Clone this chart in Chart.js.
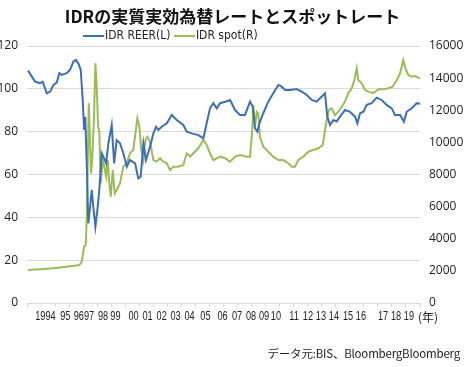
<!DOCTYPE html>
<html>
<head>
<meta charset="utf-8">
<script src="https://cdn.jsdelivr.net/npm/chart.js@4/dist/chart.umd.min.js"></script>
<style>
  body { margin: 0; background: #fff; }
  #wrap { position: relative; width: 465px; height: 367px; overflow: hidden; }
  #chart { position: absolute; left: 0; top: 0; }
  #title { position: absolute; left: 0; top: 3px; width: 465px; text-align: center;
    font: bold 17px "Noto Sans CJK JP", sans-serif; color: #111; }
  #legend { position: absolute; left: 83px; top: 28px; font: 12px "DejaVu Sans", sans-serif; font-stretch: condensed; color: #222; white-space: nowrap; }
  #legend span.mark { display: inline-block; width: 21px; height: 2px; vertical-align: middle; margin-right: 1px; }
  #unit { position: absolute; left: 418px; top: 308px; font: 12px "Noto Sans CJK JP", sans-serif; color: #222; }
  #note { position: absolute; right: 5px; top: 345px; font: 11.5px "Noto Sans CJK JP", sans-serif; color: #222; letter-spacing: -0.2px; }
</style>
</head>
<body>
<div id="wrap">
  <canvas id="chart" width="465" height="367"></canvas>
  <div id="title">IDRの実質実効為替レートとスポットレート</div>
  <div id="legend"><span class="mark" style="background:#3d6fb6"></span>IDR REER(L) <span class="mark" style="background:#9bbb59"></span>IDR spot(R)</div>
  <div id="unit">(年)</div>
  <div id="note">データ元:BIS、BloombergBloomberg</div>
</div>
<script>
  const blue = "#3d6fb6";
  const green = "#9bbb59";
  const gridGray = "#d9d9d9";

  // REER (left axis)
  const reerYears = [1994.0, 1994.46, 1994.79, 1994.97, 1995.24, 1995.46, 1995.68, 1995.9, 1996.07, 1996.23,
    1996.56, 1996.78, 1997.0, 1997.16, 1997.33, 1997.49, 1997.62, 1997.71, 1997.79, 1997.89,
    1997.99, 1998.11, 1998.22, 1998.32, 1998.46, 1998.59, 1998.72, 1998.88, 1998.99, 1999.17,
    1999.32, 1999.54, 1999.7, 1999.87, 2000.09, 2000.31, 2000.54, 2000.75, 2001.09, 2001.3,
    2001.46, 2001.64, 2001.81, 2002.08, 2002.3, 2002.48, 2002.63, 2002.85, 2003.19, 2003.52,
    2003.85, 2004.28, 2004.51, 2004.84, 2005.28, 2005.61, 2005.83, 2006.05, 2006.27, 2006.5,
    2006.72, 2007.05, 2007.38, 2007.71, 2008.04, 2008.37, 2008.7, 2008.88, 2009.03, 2009.19,
    2009.32, 2009.58, 2009.91, 2010.24, 2010.58, 2010.8, 2011.02, 2011.35, 2011.79, 2012.13,
    2012.46, 2012.79, 2013.12, 2013.45, 2013.67, 2013.82, 2014.0, 2014.22, 2014.44, 2014.66,
    2014.99, 2015.32, 2015.66, 2015.81, 2015.99, 2016.21, 2016.43, 2016.76, 2017.09, 2017.42,
    2017.75, 2018.09, 2018.3, 2018.64, 2018.9, 2019.08, 2019.41, 2019.74, 2019.96];
  const reerValues = [108.5, 103.4, 102.6, 103.3, 97.9, 98.7, 101.8, 102.9, 107.3, 106.5,
    107.3, 108.8, 112.7, 113.5, 111.9, 108.8, 94.8, 80.8, 87.0, 63.7,
    37.2, 45.0, 52.8, 45.0, 35.6, 43.4, 52.8, 69.9, 68.3, 65.2,
    74.6, 83.1, 65.2, 76.1, 74.6, 69.9, 63.6, 66.8, 65.2, 58.2,
    59.0, 74.6, 66.8, 73.0, 79.2, 82.3, 80.8, 82.3, 83.9, 87.8,
    85.4, 83.1, 80.0, 79.2, 78.4, 76.9, 83.9, 90.9, 93.3, 90.9,
    93.3, 94.0, 94.8, 90.1, 87.8, 87.8, 94.0, 91.7, 81.6, 80.0,
    83.9, 88.6, 94.0, 97.9, 101.8, 101.0, 99.5, 99.5, 99.9, 98.7,
    97.1, 94.8, 94.0, 96.4, 97.9, 87.0, 83.1, 85.4, 84.7, 87.0,
    90.1, 89.3, 87.0, 83.9, 88.6, 89.3, 92.5, 93.3, 95.9, 94.8,
    92.5, 90.9, 87.8, 87.8, 84.7, 89.3, 90.9, 93.3, 93.0];

  // IDR spot (right axis)
  const spotYears = [1994.0, 1994.79, 1995.68, 1996.56, 1997.4, 1997.56, 1997.71, 1997.82, 1997.89, 1997.95,
    1998.02, 1998.09, 1998.17, 1998.26, 1998.37, 1998.46, 1998.55, 1998.64, 1998.72, 1998.81,
    1998.95, 1999.05, 1999.17, 1999.28, 1999.38, 1999.48, 1999.61, 1999.74, 1999.87, 2000.09,
    2000.31, 2000.54, 2000.75, 2000.97, 2001.11, 2001.24, 2001.37, 2001.5, 2001.64, 2001.77,
    2001.9, 2002.08, 2002.3, 2002.52, 2002.74, 2002.96, 2003.19, 2003.4, 2003.62, 2003.95,
    2004.28, 2004.51, 2004.73, 2004.95, 2005.28, 2005.61, 2005.83, 2006.05, 2006.27, 2006.5,
    2006.72, 2007.05, 2007.38, 2007.71, 2008.04, 2008.48, 2008.7, 2008.85, 2008.92, 2009.03,
    2009.15, 2009.25, 2009.36, 2009.58, 2009.91, 2010.24, 2010.58, 2010.91, 2011.24, 2011.46,
    2011.68, 2011.9, 2012.23, 2012.56, 2012.89, 2013.23, 2013.52, 2013.67, 2013.78, 2013.93,
    2014.11, 2014.33, 2014.55, 2014.77, 2014.99, 2015.21, 2015.44, 2015.61, 2015.77, 2015.87,
    2016.1, 2016.32, 2016.54, 2016.87, 2017.2, 2017.53, 2017.86, 2018.15, 2018.42, 2018.64,
    2018.85, 2019.03, 2019.19, 2019.41, 2019.63, 2019.96];
  const spotValues = [2060, 2100, 2160, 2260, 2365, 2570, 3505, 3610, 5370, 8490,
    12430, 10560, 8070, 9110, 11600, 14920, 13470, 10980, 10670, 7450,
    8900, 8490, 7860, 8900, 7450, 6620, 8280, 6830, 7040, 7450,
    8490, 8700, 9320, 9530, 10560, 11500, 10980, 9530, 8900, 10150,
    10350, 10040, 8900, 8800, 9010, 8800, 8700, 8280, 8490, 8490,
    8590, 9320, 9110, 9320, 9630, 10150, 9840, 9320, 8900, 9010,
    9110, 9010, 8800, 9110, 9210, 9110, 9110, 10770, 12330, 10980,
    11910, 11810, 10350, 9730, 9420, 9110, 8900, 8900, 8700, 8490,
    8490, 8900, 9110, 9420, 9530, 9630, 9840, 10770, 11390, 12020,
    12120, 11700, 11910, 12220, 12540, 13060, 13370, 13880, 14610, 13880,
    13680, 13260, 13160, 13060, 13300, 13300, 13370, 13470, 13880, 14300,
    15130, 14510, 14200, 14090, 14130, 13990];

  // year labels and where they sit on the time axis
  const tickYears = [1995.15, 1996.47, 1997.36, 1998.04, 1998.97, 1999.79, 2000.99, 2001.91, 2002.85, 2003.77,
    2004.70, 2005.75, 2006.88, 2007.84, 2008.77, 2009.63, 2010.42, 2011.62, 2012.54, 2013.40,
    2014.26, 2015.19, 2016.05, 2017.51, 2018.37, 2019.23];
  const tickLabels = ["1994", "95", "96", "97", "98", "99", "00", "01", "02", "03",
    "04", "05", "06", "07", "08", "09", "10", "11", "12", "13",
    "14", "15", "16", "17", "18", "19"];

  const xMin = 1993.93;
  const xMax = 2019.96;
  const tickMarkCount = 28;

  const toPoints = (xs, ys) => xs.map((x, i) => ({ x: x, y: ys[i] }));

  const sideFont = { family: "'Open Sans', 'DejaVu Sans', sans-serif", size: 12 };

  // narrow year labels, placed through the x scale
  const yearLabels = {
    id: "yearLabels",
    afterDraw(chart) {
      const sx = chart.scales.x;
      const ctx = chart.ctx;
      const y = chart.chartArea.bottom + 13.5;
      ctx.save();
      ctx.font = "13.5px 'Liberation Sans', Arial, sans-serif";
      ctx.fillStyle = "#222";
      ctx.textAlign = "center";
      ctx.textBaseline = "middle";
      tickYears.forEach((v, i) => {
        ctx.save();
        ctx.translate(sx.getPixelForValue(v), y);
        ctx.scale(0.68, 1);
        ctx.fillText(tickLabels[i], 0, 0);
        ctx.restore();
      });
      ctx.restore();
    }
  };

  new Chart(document.getElementById("chart"), {
    type: "line",
    data: {
      datasets: [
        { label: "IDR REER(L)", data: toPoints(reerYears, reerValues), yAxisID: "y",
          borderColor: blue, borderWidth: 2, pointRadius: 0, tension: 0 },
        { label: "IDR spot(R)", data: toPoints(spotYears, spotValues), yAxisID: "y1",
          borderColor: green, borderWidth: 2, pointRadius: 0, tension: 0 }
      ]
    },
    plugins: [yearLabels],
    options: {
      responsive: false,
      animation: false,
      layout: { padding: { top: 46, bottom: 40, left: 0, right: 0 } },
      plugins: { legend: { display: false }, title: { display: false }, tooltip: { enabled: false } },
      scales: {
        x: {
          type: "linear", min: xMin, max: xMax,
          afterBuildTicks: (axis) => {
            const step = (xMax - xMin) / tickMarkCount;
            axis.ticks = Array.from({ length: tickMarkCount + 1 }, (_, k) => ({ value: xMin + k * step }));
          },
          afterFit: (axis) => { axis.height = 24; },
          ticks: { display: false },
          grid: { drawOnChartArea: false, drawTicks: true, tickLength: 4, color: gridGray },
          border: { display: false }
        },
        y: {
          position: "left", min: 0, max: 120,
          afterFit: (axis) => { axis.width = 27; },
          ticks: { stepSize: 20, padding: 9, color: "#222", font: sideFont },
          grid: { color: gridGray, lineWidth: 1, drawTicks: false },
          border: { display: false }
        },
        y1: {
          position: "right", min: 0, max: 16000,
          afterFit: (axis) => { axis.width = 45; },
          ticks: { stepSize: 2000, padding: 9, color: "#222", font: sideFont, callback: (v) => String(v) },
          grid: { display: false, drawTicks: false },
          border: { display: false }
        }
      }
    }
  });
</script>
</body>
</html>
